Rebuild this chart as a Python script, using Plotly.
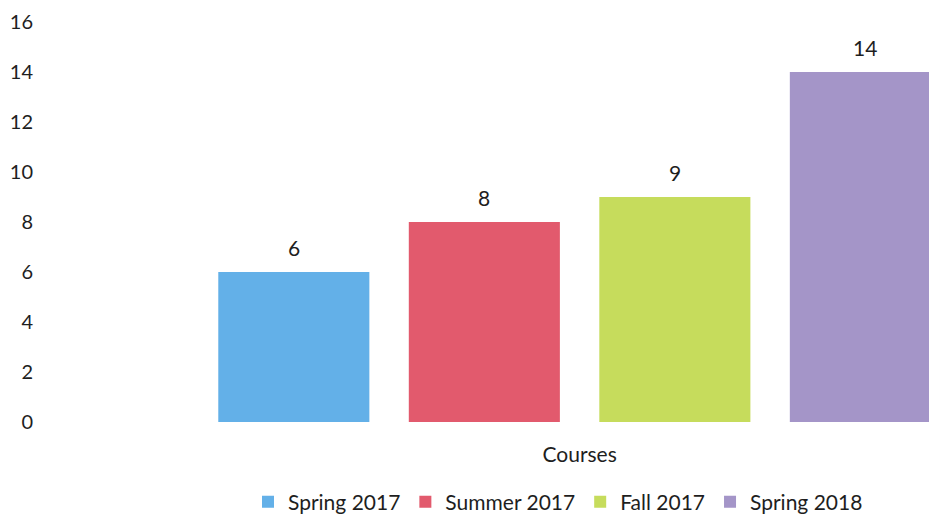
import plotly.graph_objects as go

series_names = ["Spring 2017", "Summer 2017", "Fall 2017", "Spring 2018"]
series_values = [6, 8, 9, 14]
category_label = "Courses"
y_ticks = [0, 2, 4, 6, 8, 10, 12, 14, 16]

colors = ["#63B0E8", "#E25A6D", "#C6DC5C", "#A495C8"]
FONT = "Lato"
TXT = "#1e1e1e"

fig = go.Figure()
for i, (name, val) in enumerate(zip(series_names, series_values)):
    fig.add_trace(go.Bar(
        x=[i], y=[val], name=name, width=0.793,
        marker=dict(color=colors[i], line=dict(width=0)),
    ))
    fig.add_annotation(x=i, y=val, text=str(val), showarrow=False,
                       yanchor="middle", yshift=25,
                       font=dict(family=FONT, size=21, color=TXT))

center = (len(series_names) - 1) / 2
L = 38
fig.update_layout(
    width=929, height=520,
    margin=dict(l=L, r=0, t=22, b=98, autoexpand=False),
    paper_bgcolor="white", plot_bgcolor="white",
    barmode="overlay",
    font=dict(family=FONT, size=21, color=TXT),
    showlegend=True,
    legend=dict(orientation="h", x=(558 - L) / (929 - L), xanchor="center",
                y=-0.2, yanchor="middle",
                font=dict(family=FONT, size=21, color=TXT),
                itemwidth=30, traceorder="normal"),
    xaxis=dict(range=[-(293.8 - L) / 190.5, 3.334], tickvals=[center], ticktext=[category_label],
               showgrid=False, zeroline=False, showline=False, ticks="",
               ticklabelstandoff=18, automargin=False,
               tickfont=dict(family=FONT, size=21, color=TXT)),
    yaxis=dict(range=[0, 16], tickvals=y_ticks, showgrid=False, zeroline=False,
               showline=False, ticks="", ticklabelstandoff=4, automargin=False,
               tickfont=dict(family=FONT, size=20, color=TXT)),
)

fig.write_html("out.html", config={"displayModeBar": False},
               post_script="document.body.style.margin='0';")
